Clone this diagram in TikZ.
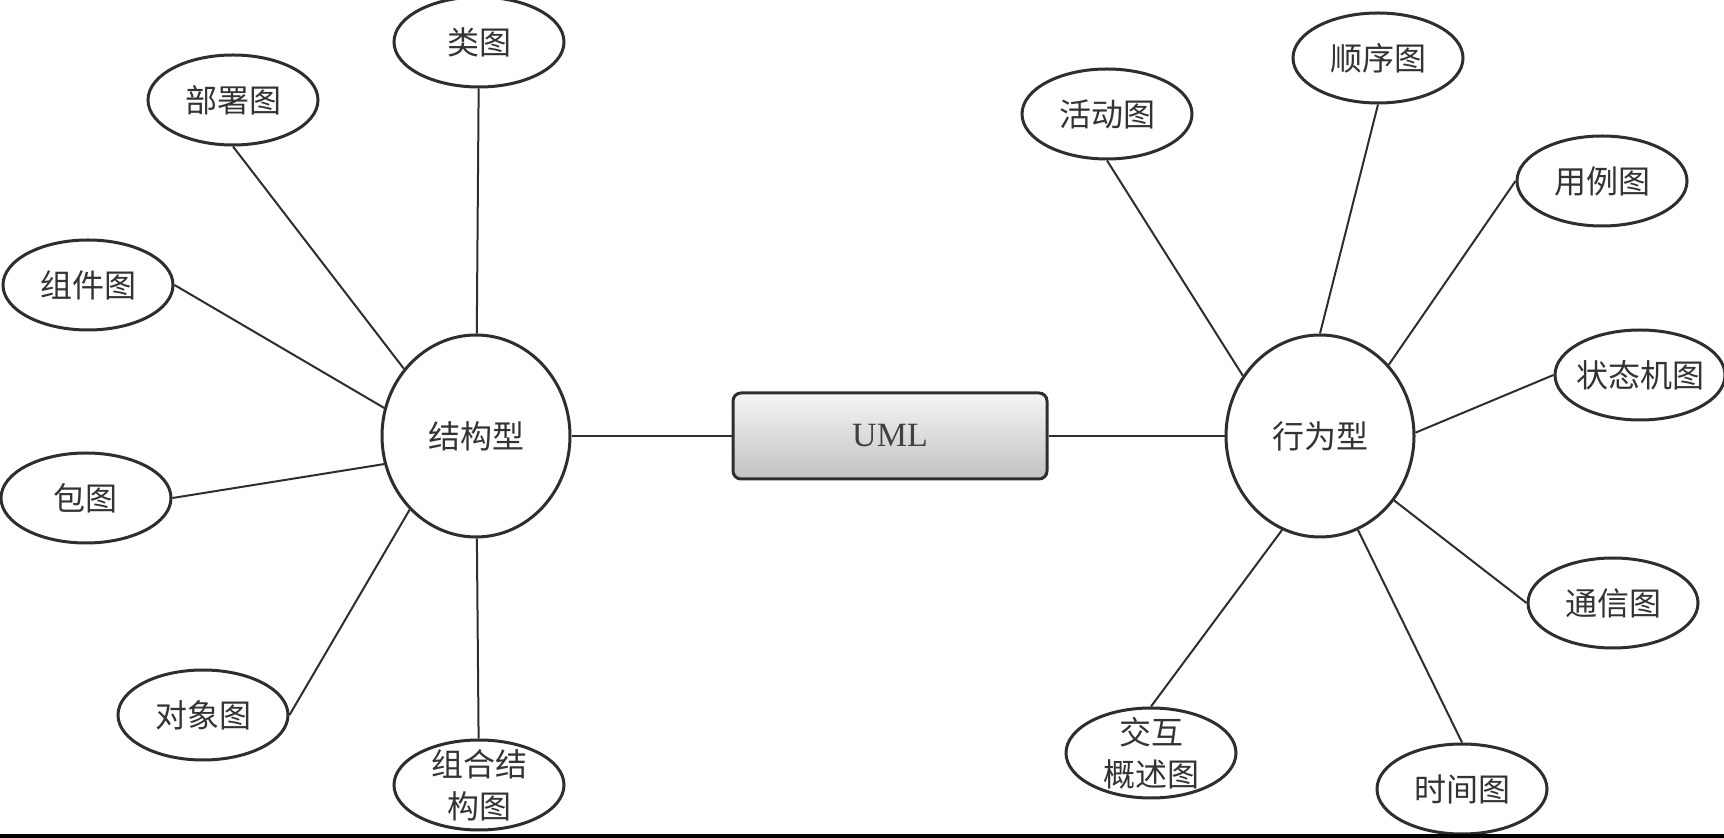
\documentclass[tikz,border=0pt]{standalone}
\usepackage{fontspec}
\setmainfont{Liberation Serif}
\newfontfamily\cjk{Noto Sans CJK SC}
\usetikzlibrary{positioning,shapes.geometric}
\definecolor{linie}{HTML}{2E2E2E}

\begin{document}
\begin{tikzpicture}[
		x=0.5pt, y=-0.5pt,
		font=\cjk\fontsize{16pt}{21pt}\selectfont,
		blatt/.style={
			draw=linie, line width=1.5pt, ellipse, fill=white, text=black!80,
			inner sep=-4pt, minimum width=85pt, minimum height=45pt, align=center
		},
		kern/.style={
			draw=linie, line width=1.5pt, ellipse, fill=white, text=black!80,
			minimum width=94pt, minimum height=101pt
		},
		wurzel/.style={
			draw=linie, line width=1.5pt, rounded corners=4pt, text=black!75,
			top color=black!4, bottom color=black!24,
			minimum width=157pt, minimum height=43pt,
			font=\fontsize{17pt}{20pt}\selectfont
		},
		ast/.style={draw=linie, line width=1pt}
		]
		\useasboundingbox (0,0) rectangle (1724,838);
		
		% ---- Mitte: UML und die beiden Kategorien
		\node[wurzel]                      (uml)     at (890,436) {UML};
		\node[kern, left=80pt of uml]      (struk)   {结构型};
		\node[kern, right=88pt of uml]     (verh)    {行为型};
		
		% ---- linke Seite: Strukturdiagramme
		\node[blatt] (klasse)  at (479,42)  {类图};
		\node[blatt] (vert)    at (233,100) {部署图};
		\node[blatt] (komp)    at (88,285)  {组件图};
		\node[blatt] (paket)   at (86,498)  {包图};
		\node[blatt] (objekt)  at (203,715) {对象图};
		\node[blatt] (kompstr) at (479,785) {组合结\\构图};
		
		% ---- rechte Seite: Verhaltensdiagramme
		\node[blatt] (akt)     at (1107,114) {活动图};
		\node[blatt] (seq)     at (1378,58)  {顺序图};
		\node[blatt] (anw)     at (1602,181) {用例图};
		\node[blatt] (zust)    at (1640,375) {状态机图};
		\node[blatt] (komm)    at (1613,603) {通信图};
		\node[blatt] (zeit)    at (1462,789) {时间图};
		\node[blatt] (inter)   at (1151,753) {交互\\概述图};
		
		% ---- Verbindungen
		\draw[ast] (struk) -- (uml);
		\draw[ast] (uml) -- (verh);
		
		\draw[ast] (klasse) -- (struk);
		\draw[ast] (vert.south) -- (struk.137);
		\draw[ast] (komp.east) -- (struk.163);
		\draw[ast] (paket.east) -- (struk.197);
		\draw[ast] (objekt.east) -- (struk.228);
		\draw[ast] (kompstr) -- (struk);
		
		\draw[ast] (akt.south) -- (verh.142);
		\draw[ast] (seq.south) -- (verh.north);
		\draw[ast] (anw.west) -- (verh.46);
		\draw[ast] (zust.west) -- (verh.2);
		\draw[ast] (komm.west) -- (verh.-41);
		\draw[ast] (zeit.north) -- (verh.-68);
		\draw[ast] (inter.north) -- (verh.248);
		
		% ---- schwarzer Balken am unteren Rand
		\fill[black] (0,834) rectangle (1724,838);
	\end{tikzpicture}
\end{document}
